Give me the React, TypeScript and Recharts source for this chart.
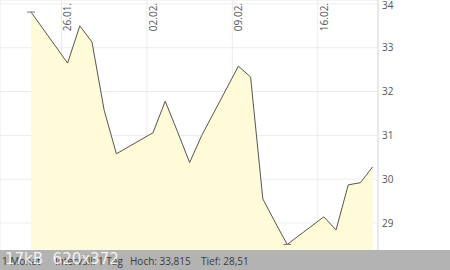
import { Area, AreaChart, CartesianGrid, XAxis, YAxis } from "recharts";

// trading days, counted from Fri 23.01. (noon)
const DATES = ["23.01.", "26.01.", "27.01.", "28.01.", "29.01.", "30.01.", "02.02.", "03.02.", "04.02.", "05.02.", "06.02.", "09.02.", "10.02.", "11.02.", "12.02.", "13.02.", "16.02.", "17.02.", "18.02.", "19.02.", "20.02."];
const DAY_OFFSET = [0, 3, 4, 5, 6, 7, 10, 11, 12, 13, 14, 17, 18, 19, 20, 21, 24, 25, 26, 27, 28];
const PRICE = [33.815, 32.65, 33.5, 33.13, 31.57, 30.58, 31.06, 31.78, 31.09, 30.38, 31.0, 32.58, 32.33, 29.55, 29.02, 28.51, 29.14, 28.84, 29.87, 29.92, 30.28];

const WEEK_TICKS = [2.5, 9.5, 16.5, 23.5];
const WEEK_LABELS = ["26.01.", "02.02.", "09.02.", "16.02."];
const PRICE_TICKS = [29, 30, 31, 32, 33, 34];

const data = DATES.map((d, i) => ({ date: d, day: DAY_OFFSET[i], price: PRICE[i] }));
const HIGH = Math.max(...PRICE);
const LOW = Math.min(...PRICE);

const FONT = "'Open Sans', 'Noto Sans', sans-serif";
const TEXT = "#555";
const GRID = "#ececec";

function WeekTick({ x, payload }: any) {
  const idx = WEEK_TICKS.indexOf(payload.value);
  return (
    <text
      transform={`translate(${x + 10},3) rotate(-90)`}
      textAnchor="end"
      fontSize={10}
      fontFamily={FONT}
      fill={TEXT}
    >
      {WEEK_LABELS[idx]}
    </text>
  );
}

function ExtremeDot({ cx, cy, payload, index }: any) {
  if (payload.price !== HIGH && payload.price !== LOW) return <g key={index} />;
  return <line key={index} x1={cx - 4} x2={cx + 4} y1={cy} y2={cy} stroke="#777" strokeWidth={1} />;
}

export default function App() {
  return (
    <div style={{ position: "absolute", left: 0, top: 0, width: 450, height: 270, background: "#fff", overflow: "hidden" }}>
      <AreaChart width={450} height={251} data={data} margin={{ top: -1, right: 0, left: 0, bottom: 0 }} style={{ position: "absolute", top: 0 }}>
        <CartesianGrid stroke={GRID} />
        <XAxis
          dataKey="day"
          type="number"
          orientation="top"
          height={1}
          domain={[-2.54, 28.44]}
          allowDataOverflow
          ticks={WEEK_TICKS}
          interval={0}
          tick={<WeekTick />}
          axisLine={false}
          tickLine={false}
        />
        <YAxis
          orientation="right"
          width={72}
          domain={[28.36, 34.09]}
          allowDataOverflow
          ticks={PRICE_TICKS}
          axisLine={{ stroke: "#dddddd" }}
          tickLine={false}
          tickSize={4}
          tickMargin={0}
          tick={{ fill: TEXT, fontSize: 10, fontFamily: FONT }}
        />
        <Area
          type="linear"
          dataKey="price"
          stroke="#555"
          strokeWidth={1}
          fill="#fffad8"
          fillOpacity={1}
          dot={<ExtremeDot />}
          activeDot={false}
          isAnimationActive={false}
        />
      </AreaChart>
      <div style={{ position: "absolute", left: 0, top: 250, width: 450, height: 20, background: "#b3b3b3", fontFamily: FONT, fontSize: 10, color: "#3c3c3c" }}>
        <span style={{ position: "absolute", left: 2, top: 4 }}>1 Monat</span>
        <span style={{ position: "absolute", left: 55, top: 4 }}>Intervall: 1 Tag</span>
        <span style={{ position: "absolute", left: 130, top: 4 }}>Hoch: 33,815</span>
        <span style={{ position: "absolute", left: 201, top: 4 }}>Tief: 28,51</span>
        <span style={{ position: "absolute", left: 5, top: 0, fontSize: 15, color: "rgba(255,255,255,0.85)", fontFamily: "'DejaVu Sans', sans-serif" }}>17kB&nbsp;&nbsp;620x372</span>
      </div>
    </div>
  );
}
